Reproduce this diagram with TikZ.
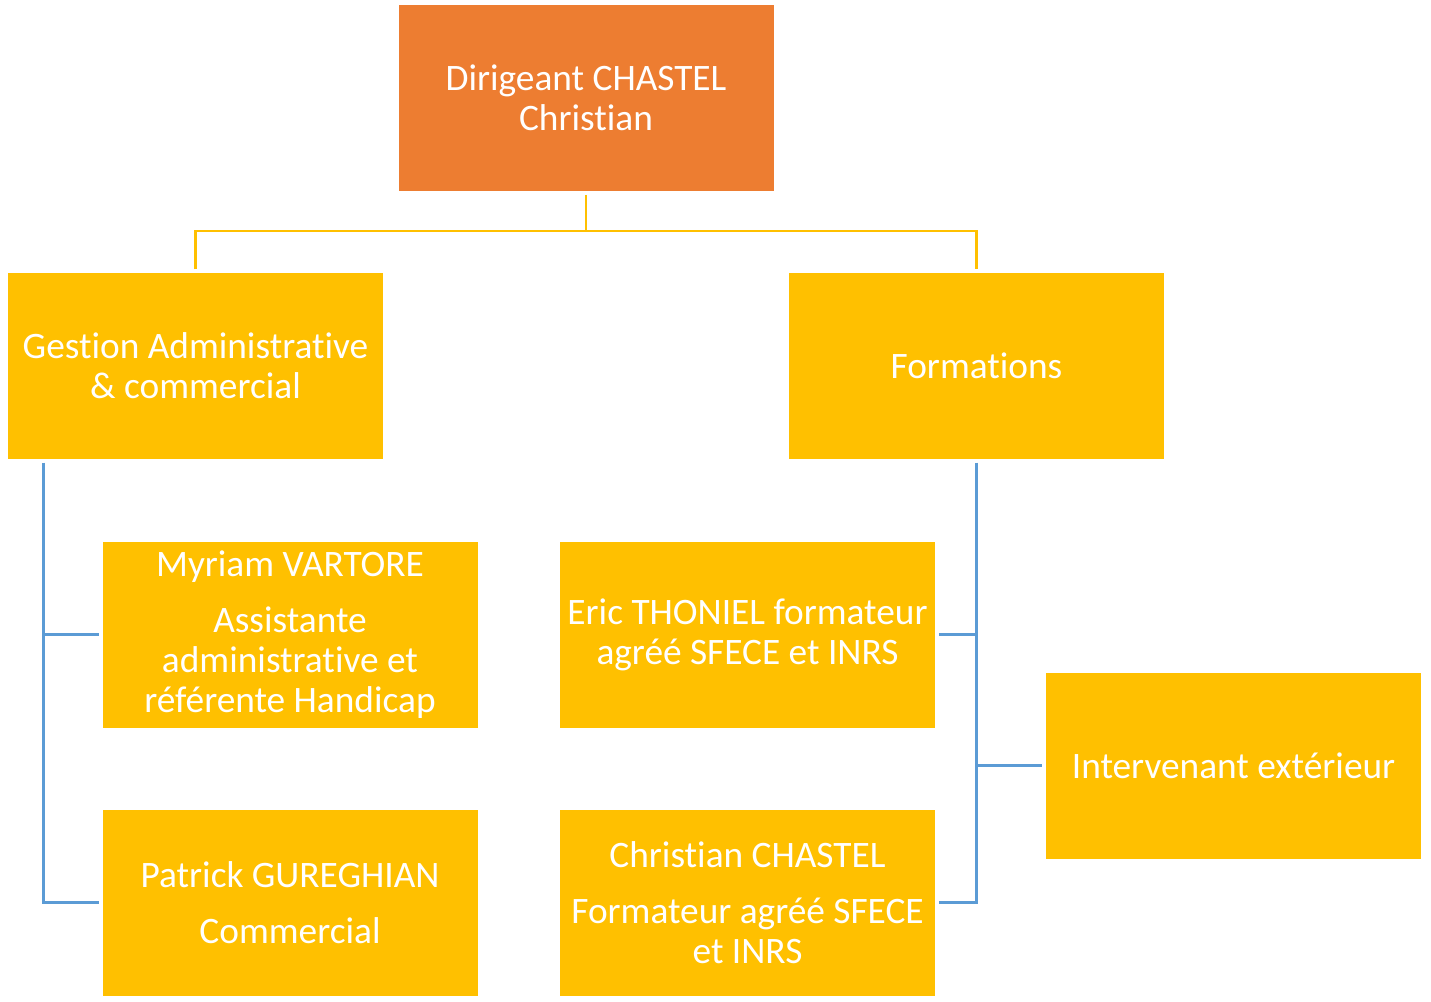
\documentclass[tikz,border=0pt]{standalone}
\usepackage{fontspec}
\setmainfont{Carlito}[Ligatures=NoCommon]
\definecolor{orgc}{HTML}{ED7D31}
\definecolor{ylwc}{HTML}{FFC000}
\definecolor{bluc}{HTML}{5B9BD5}
\begin{document}
\begin{tikzpicture}[x=0.75pt,y=-0.75pt,
  boxst/.style={fill=ylwc,draw=none,minimum width=281.25pt,minimum height=139.5pt,inner sep=0pt,
    text=white,align=center,font=\fontsize{28}{30}\selectfont},
  topst/.style={boxst,fill=orgc},
  ylline/.style={draw=ylwc,line width=2.2pt},
  blline/.style={draw=bluc,line width=2.2pt}]
\useasboundingbox (0,0) rectangle (1431,1001);
\node[topst] (top) at (586,97.5) {Dirigeant CHASTEL\\Christian};
\node[boxst] (gest) at (195.5,366) {Gestion Administrative\\\& commercial};
\node[boxst] (form) at (976.5,366) {Formations};
\node[boxst] (myr) at (290,634.5) {Myriam VARTORE\\[12pt]Assistante\\administrative et\\référente Handicap};
\node[boxst] (pat) at (290,902.5) {Patrick GUREGHIAN\\[12pt]Commercial};
\node[boxst] (eric) at (747.5,634.5) {Eric THONIEL formateur\\agréé SFECE et INRS};
\node[boxst] (chr) at (747.5,902.5) {Christian CHASTEL\\[12pt]Formateur agréé SFECE\\et INRS};
\node[boxst] (int) at (1233.5,765.5) {Intervenant extérieur};
% yellow connectors
\coordinate (jn) at (586,231);
\draw[ylline] ([yshift=-3pt]top.south) -- (jn);
\draw[ylline] ([yshift=2.5pt]gest.north) |- (jn) -| ([yshift=2.5pt]form.north);
% blue connectors left
\coordinate (gl) at ([xshift=27pt,yshift=-2.5pt]gest.south west);
\draw[blline] (gl) |- ([xshift=-2.5pt]pat.west);
\draw[blline] (gl |- myr.west) -- ([xshift=-2.5pt]myr.west);
% blue connectors right
\coordinate (fl) at ([yshift=-2.5pt]form.south);
\draw[blline] (fl) |- ([xshift=2.5pt]chr.east);
\draw[blline] (fl |- eric.east) -- ([xshift=2.5pt]eric.east);
\draw[blline] (fl |- int.west) -- ([xshift=-2.5pt]int.west);
\end{tikzpicture}
\end{document}
